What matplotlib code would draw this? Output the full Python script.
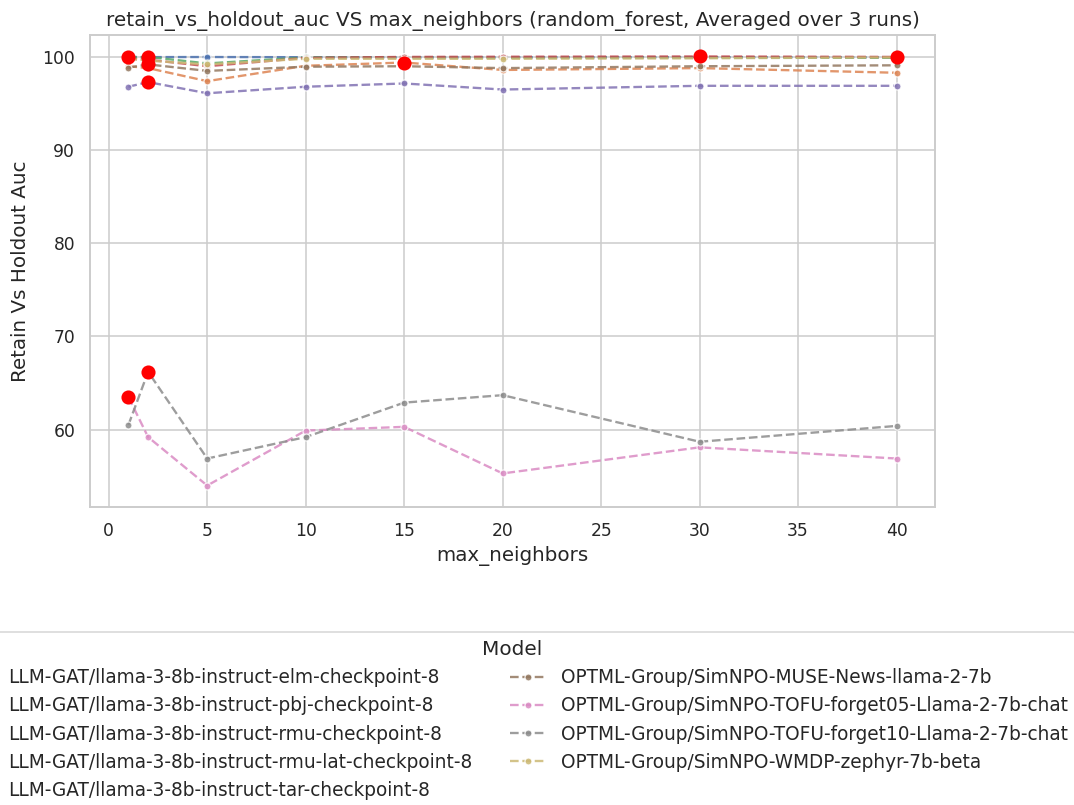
import numpy as np
import pandas as pd
import seaborn as sns
from matplotlib import pyplot as plt

# max_neighbors values on the x axis
max_neighbors = [1, 2, 5, 10, 15, 20, 30, 40]

models = [
    "LLM-GAT/llama-3-8b-instruct-elm-checkpoint-8",
    "LLM-GAT/llama-3-8b-instruct-pbj-checkpoint-8",
    "LLM-GAT/llama-3-8b-instruct-rmu-checkpoint-8",
    "LLM-GAT/llama-3-8b-instruct-rmu-lat-checkpoint-8",
    "LLM-GAT/llama-3-8b-instruct-tar-checkpoint-8",
    "OPTML-Group/SimNPO-MUSE-News-llama-2-7b",
    "OPTML-Group/SimNPO-TOFU-forget05-Llama-2-7b-chat",
    "OPTML-Group/SimNPO-TOFU-forget10-Llama-2-7b-chat",
    "OPTML-Group/SimNPO-WMDP-zephyr-7b-beta",
]

# retain_vs_holdout_auc per model, averaged over 3 runs
elm = [100.0, 99.98, 99.99, 99.97, 99.95, 99.96, 99.97, 99.96]
pbj = [99.0, 98.8, 97.4, 99.05, 99.4, 98.6, 98.8, 98.3]
rmu = [99.9, 100.0, 99.3, 99.95, 99.97, 99.9, 99.95, 99.9]
rmu_lat = [99.8, 99.7, 99.0, 99.9, 100.0, 100.02, 100.05, 100.0]
tar = [96.8, 97.3, 96.1, 96.8, 97.15, 96.5, 96.9, 96.9]
muse = [98.85, 99.2, 98.5, 98.95, 99.0, 98.8, 99.0, 99.1]
forget05 = [63.5, 59.2, 54.0, 59.9, 60.3, 55.3, 58.1, 56.9]
forget10 = [60.5, 66.2, 56.9, 59.2, 62.9, 63.7, 58.7, 60.4]
wmdp = [99.8, 99.6, 99.2, 99.8, 99.8, 99.8, 99.85, 99.95]

series = [elm, pbj, rmu, rmu_lat, tar, muse, forget05, forget10, wmdp]

sns.set_theme(style="whitegrid")
colors = sns.color_palette("deep", len(models))

fig = plt.figure(figsize=(1074 / 112, 805 / 112), dpi=112)
ax = fig.add_axes([90 / 1074, 1 - 507 / 805, 845 / 1074, 472 / 805])

for name, vals, c in zip(models, series, colors):
    ax.plot(max_neighbors, vals, linestyle="--", marker="o", color=c, label=name,
            markersize=4.5, markeredgecolor="white", markeredgewidth=0.8, alpha=0.85)

# highlight the best value of each model
for vals in series:
    i = int(np.argmax(vals))
    ax.scatter(max_neighbors[i], vals[i], color="red", s=65, zorder=10)

ax.set_title("retain_vs_holdout_auc VS max_neighbors (random_forest, Averaged over 3 runs)",
             fontsize=12.9)
ax.set_xlabel("max_neighbors", fontsize=12.8)
ax.set_ylabel("Retain Vs Holdout Auc", fontsize=12.8, labelpad=8)
ax.set_xticks(range(0, 41, 5))

ax.legend(title="Model", loc="upper center", bbox_to_anchor=(0.5, -0.246), ncol=2,
          fontsize=11.9, title_fontsize=12.9)

fig.savefig("out.png", dpi=112)
